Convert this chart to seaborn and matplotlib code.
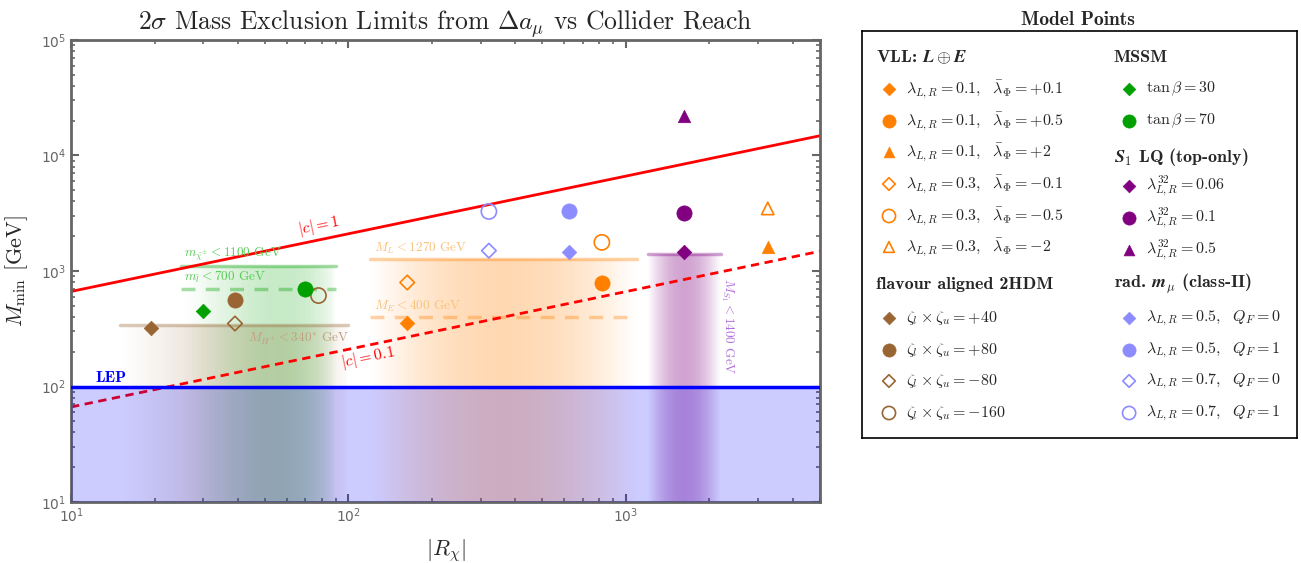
import numpy as np
import seaborn as sns
import matplotlib
matplotlib.use("Agg")
import matplotlib.pyplot as plt
from matplotlib.colors import LinearSegmentedColormap, to_rgb
from matplotlib.ticker import LogLocator, NullFormatter

sns.set_style("ticks")
plt.rcParams['font.family'] = ['DejaVu Sans']
plt.rcParams['mathtext.fontset'] = 'dejavusans'

# ---------------- data ----------------
# VLL: L + E
vll_x = [163, 820, 3250, 163, 820, 3250]
vll_y = [358, 795, 1600, 795, 1770, 3480]
vll_mk = ['D', 'o', '^', 'D', 'o', '^']
vll_fill = [True, True, True, False, False, False]
vll_lab = [r'$\lambda_{L,R} = 0.1,\ \ \bar{\lambda}_\Phi = +0.1$',
           r'$\lambda_{L,R} = 0.1,\ \ \bar{\lambda}_\Phi = +0.5$',
           r'$\lambda_{L,R} = 0.1,\ \ \bar{\lambda}_\Phi = +2$',
           r'$\lambda_{L,R} = 0.3,\ \ \bar{\lambda}_\Phi = -0.1$',
           r'$\lambda_{L,R} = 0.3,\ \ \bar{\lambda}_\Phi = -0.5$',
           r'$\lambda_{L,R} = 0.3,\ \ \bar{\lambda}_\Phi = -2$']

# flavour aligned 2HDM
thdm_x = [19.5, 39, 39, 78]
thdm_y = [324, 566, 351, 613]
thdm_mk = ['D', 'o', 'D', 'o']
thdm_fill = [True, True, False, False]
thdm_lab = [r'$\zeta_l \times \zeta_u = +40$', r'$\zeta_l \times \zeta_u = +80$',
            r'$\zeta_l \times \zeta_u = -80$', r'$\zeta_l \times \zeta_u = -160$']

# MSSM
mssm_x = [30, 70]
mssm_y = [455, 692]
mssm_mk = ['D', 'o']
mssm_fill = [True, True]
mssm_lab = [r'$\tan\beta = 30$', r'$\tan\beta = 70$']

# S1 leptoquark (top-only)
lq_x = [1620, 1620, 1620]
lq_y = [1475, 3150, 21800]
lq_mk = ['D', 'o', '^']
lq_fill = [True, True, True]
lq_lab = [r'$\lambda^{32}_{L,R} = 0.06$', r'$\lambda^{32}_{L,R} = 0.1$',
          r'$\lambda^{32}_{L,R} = 0.5$']

# radiative muon mass (class-II)
rad_x = [624, 624, 321, 321]
rad_y = [1475, 3275, 1500, 3275]
rad_mk = ['D', 'o', 'D', 'o']
rad_fill = [True, True, False, False]
rad_lab = [r'$\lambda_{L,R} = 0.5,\ \ Q_F = 0$', r'$\lambda_{L,R} = 0.5,\ \ Q_F = 1$',
           r'$\lambda_{L,R} = 0.7,\ \ Q_F = 0$', r'$\lambda_{L,R} = 0.7,\ \ Q_F = 1$']

# |c| = 1 and |c| = 0.1 reference lines (end points)
c_x = [10, 5000]
c1_y = [665, 14800]
c01_y = [66.5, 1480]

# LEP
lep_y = 100

# collider limits: value, x range
lim_val = [1100, 700, 340, 1270, 400, 1400]
lim_x0 = [25, 25, 15, 120, 120, 1200]
lim_x1 = [90, 90, 100, 1100, 1100, 2200]

# shaded bands: x range, top, peak position (fraction), peak opacity
band_x0 = [15, 25, 120, 1200]
band_x1 = [100, 90, 1100, 2200]
band_top = [340, 1100, 1270, 1400]
band_peak = [0.6, 0.65, 0.5, 0.5]
band_amax = [0.24, 0.22, 0.3, 0.36]

c_vll = '#ff8000'
c_thdm = '#996633'
c_mssm = '#00a000'
c_lq = '#800080'
c_rad = '#8c8cff'

lim_col = [c_mssm, c_mssm, c_thdm, c_vll, c_vll, c_lq]
lim_dash = [False, True, False, False, True, False]
band_col = [c_thdm, c_mssm, c_vll, c_lq]

sizes = {'D': 55, 'o': 120, '^': 80}

# ---------------- figure ----------------
fig = plt.figure(figsize=(13.01, 5.63), dpi=100)
ax = fig.add_axes([0.0546, 0.1083, 0.5754, 0.8207])
ax.set_xscale('log')
ax.set_yscale('log')
ax.set_xlim(10, 5000)
ax.set_ylim(10, 1e5)


def prof(t, c, k=2.2):
    t = np.clip(t, 1e-6, 1 - 1e-6)
    return (t / c) ** (k * c) * ((1 - t) / (1 - c)) ** (k * (1 - c))


# gradient bands
for x0, x1, top, pk, am, col in zip(band_x0, band_x1, band_top, band_peak, band_amax, band_col):
    n = 120
    xe = np.logspace(np.log10(x0), np.log10(x1), n + 1)
    tc = (np.arange(n) + 0.5) / n
    r, g, b = to_rgb(col)
    cm = LinearSegmentedColormap.from_list('b', [(r, g, b, 0.0), (r, g, b, am)])
    ax.pcolormesh(xe, [10, top], prof(tc, pk)[None, :], cmap=cm, vmin=0, vmax=1,
                  shading='flat', linewidth=0, antialiased=False, zorder=1)

# collider limit lines
for v, x0, x1, col, dsh in zip(lim_val, lim_x0, lim_x1, lim_col, lim_dash):
    sns.lineplot(x=[x0, x1], y=[v, v], ax=ax, color=col, alpha=0.35, lw=2.5,
                 linestyle=(0, (4, 3)) if dsh else '-', zorder=2)

# |c| lines
sns.lineplot(x=c_x, y=c1_y, ax=ax, color='red', lw=2, zorder=2)
sns.lineplot(x=c_x, y=c01_y, ax=ax, color='red', lw=2, linestyle=(0, (3, 2)), zorder=2)

# LEP
ax.fill_between(c_x, 10, lep_y, color='blue', alpha=0.2, lw=0, zorder=3)
sns.lineplot(x=c_x, y=[lep_y, lep_y], ax=ax, color='blue', lw=2.5, zorder=4)


def draw_pts(a, xs, ys, mks, fills, col, scale=1.0):
    for x, y, m, f in zip(xs, ys, mks, fills):
        s = sizes[m] * scale
        if f:
            sns.scatterplot(x=[x], y=[y], ax=a, marker=m, s=s, color=col,
                            edgecolor=col, linewidth=0.5, zorder=6, legend=False)
        else:
            sns.scatterplot(x=[x], y=[y], ax=a, marker=m, s=s, facecolor='none',
                            edgecolor=col, linewidth=1.2, zorder=6, legend=False)


groups = [(vll_x, vll_y, vll_mk, vll_fill, c_vll),
          (thdm_x, thdm_y, thdm_mk, thdm_fill, c_thdm),
          (mssm_x, mssm_y, mssm_mk, mssm_fill, c_mssm),
          (lq_x, lq_y, lq_mk, lq_fill, c_lq),
          (rad_x, rad_y, rad_mk, rad_fill, c_rad)]
for gx, gy, gm, gf, gc in groups:
    draw_pts(ax, gx, gy, gm, gf, gc)

# annotations
cm_kw = dict(family='cmr10', math_fontfamily='cm')
ax.text(25.5, 1180, r'$m_{\tilde{\chi}^{\pm}} < 1100$ GeV', color='#55cc55', fontsize=9.5,
        va='bottom', ha='left', zorder=5, **cm_kw)
ax.text(25.5, 750, r'$m_{\tilde{l}} < 700$ GeV', color='#55cc55', fontsize=9.5,
        va='bottom', ha='left', zorder=5, **cm_kw)
ax.text(43.5, 305, r'$M_{H^{\pm}} < 340^{*}$ GeV', color='#c0a080', fontsize=9.5,
        va='top', ha='left', zorder=5, **cm_kw)
ax.text(124, 1340, r'$M_L < 1270$ GeV', color='#f8c27a', fontsize=9.5,
        va='bottom', ha='left', zorder=5, **cm_kw)
ax.text(124, 425, r'$M_E < 400$ GeV', color='#f8c27a', fontsize=9.5,
        va='bottom', ha='left', zorder=5, **cm_kw)
ax.text(2330, 870, r'$M_{S_1} < 1400$ GeV', color='#b070d8', fontsize=9.5,
        va='top', ha='center', rotation=-90, zorder=5, **cm_kw)


def line_angle(xs, ys):
    p = ax.transData.transform(np.column_stack([xs, ys]))
    return np.degrees(np.arctan2(p[1, 1] - p[0, 1], p[1, 0] - p[0, 0]))


ang = line_angle(c_x, c1_y)
ax.text(78, 2450, r'$|c| = 1$', color='red', fontsize=11.5, rotation=ang,
        ha='center', va='center', rotation_mode='anchor', zorder=5, **cm_kw)
ax.text(118, 178, r'$|c| = 0.1$', color='red', fontsize=11.5, rotation=ang,
        ha='center', va='center', rotation_mode='anchor', zorder=5, **cm_kw)
ax.text(12.3, 104, 'LEP', color='blue', fontsize=11.5, family='cmb10',
        ha='left', va='bottom', zorder=5)

# axes style
for sp in ax.spines.values():
    sp.set_color('#666666')
    sp.set_linewidth(2)
ax.xaxis.set_major_locator(LogLocator(base=10))
ax.xaxis.set_minor_locator(LogLocator(base=10, subs=np.arange(2, 10)))
ax.yaxis.set_major_locator(LogLocator(base=10))
ax.yaxis.set_minor_locator(LogLocator(base=10, subs=np.arange(2, 10)))
ax.xaxis.set_minor_formatter(NullFormatter())
ax.yaxis.set_minor_formatter(NullFormatter())
ax.tick_params(which='both', direction='in', top=True, right=True, color='#666666',
               labelcolor='#666666', labelsize=10)
ax.tick_params(which='major', length=6, width=1.5)
ax.tick_params(which='minor', length=3, width=1.2)

ax.set_title(r'$2\sigma$ Mass Exclusion Limits from $\Delta a_\mu$ vs Collider Reach',
             fontsize=18.5, pad=7, **cm_kw)
ax.set_xlabel(r'$|R_\chi|$', fontsize=16, labelpad=8, **cm_kw)
ax.set_ylabel(r'$M_{\rm min}$ [GeV]', fontsize=16, labelpad=8, **cm_kw)

# ---------------- legend panel ----------------
lg = fig.add_axes([862 / 1301, 1 - 438 / 563, 435 / 1301, 407 / 563])
lg.set_xticks([])
lg.set_yticks([])
for sp in lg.spines.values():
    sp.set_color('black')
    sp.set_linewidth(1.2)
fig.text(1078 / 1301, 1 - 20 / 563, 'Model Points', ha='center', va='center',
         fontsize=14, family='cmb10')


def ypix(p):
    return (438 - p) / 407


def leg_column(entries, groupmap, xh, xm, xl):
    for key, lab, p in entries:
        if key == 'head':
            lg.text(xh, ypix(p), lab, ha='left', va='center', fontsize=13,
                    family='cmb10', math_fontfamily='cm')
            continue
        gx, gy, gm, gf, gc = groupmap[p]
        draw_pts(lg, [xm], [ypix(p)], [gm[key]], [gf[key]], gc, scale=0.75)
        lg.text(xl, ypix(p), lab, ha='left', va='center', fontsize=11.5,
                math_fontfamily='cm')


col1 = [('head', r'VLL: $\mathbfit{L} \oplus \mathbfit{E}$', 57)]
col1 += [(i, vll_lab[i], p) for i, p in enumerate([89, 121, 152, 184, 216, 247])]
col1 += [('head', 'flavour aligned 2HDM', 284)]
col1 += [(i, thdm_lab[i], p) for i, p in enumerate([318, 350, 381, 413])]
gmap1 = {p: groups[0] for p in [89, 121, 152, 184, 216, 247]}
gmap1.update({p: groups[1] for p in [318, 350, 381, 413]})
leg_column(col1, gmap1, 0.032, 0.062, 0.101)

col2 = [('head', 'MSSM', 57)]
col2 += [(i, mssm_lab[i], p) for i, p in enumerate([89, 121])]
col2 += [('head', r'$\mathbfit{S}_\mathbf{1}$ LQ (top-only)', 157)]
col2 += [(i, lq_lab[i], p) for i, p in enumerate([186, 218, 250])]
col2 += [('head', r'rad. $\mathbfit{m}_{\mu}$ (class-II)', 284)]
col2 += [(i, rad_lab[i], p) for i, p in enumerate([318, 350, 381, 413])]
gmap2 = {p: groups[2] for p in [89, 121]}
gmap2.update({p: groups[3] for p in [186, 218, 250]})
gmap2.update({p: groups[4] for p in [318, 350, 381, 413]})
leg_column(col2, gmap2, 0.579, 0.614, 0.653)
lg.set_xlim(0, 1)
lg.set_ylim(0, 1)
lg.set_xlabel('')
lg.set_ylabel('')

fig.savefig('out.png', dpi=100)
